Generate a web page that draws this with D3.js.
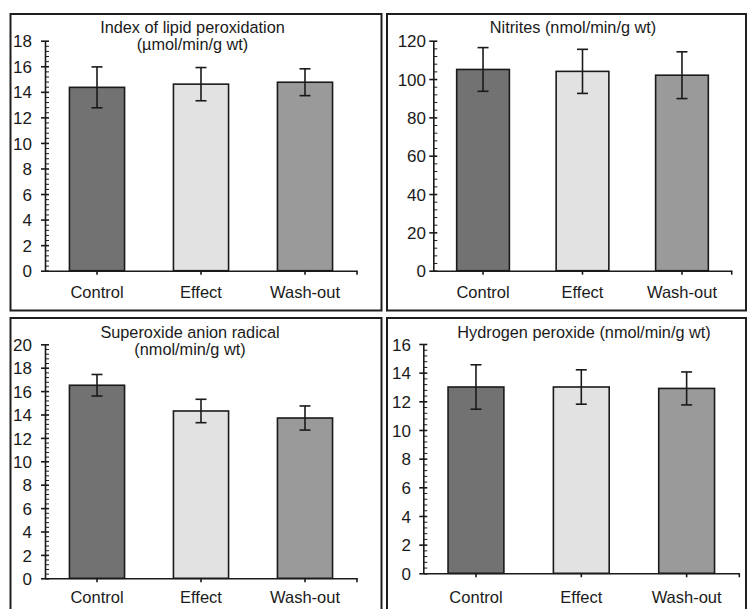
<!DOCTYPE html>
<html>
<head>
<meta charset="utf-8">
<script src="https://cdn.jsdelivr.net/npm/d3@7"></script>
<style>
  html, body { margin: 0; padding: 0; background: #fff; }
  svg text { font-family: "Liberation Sans", Arial, sans-serif; fill: #1a1a1a; }
</style>
</head>
<body>
<svg id="chart" width="747" height="609"></svg>
<script>
// ---- data ----
const categories = ["Control", "Effect", "Wash-out"];

const lipidValues = [14.35, 14.6, 14.75];
const lipidErrors = [1.6, 1.3, 1.05];
const lipidTicks = [0, 2, 4, 6, 8, 10, 12, 14, 16, 18];
const lipidTitle = ["Index of lipid peroxidation", "(µmol/min/g wt)"];

const nitriteValues = [105, 104, 102];
const nitriteErrors = [11.4, 11.5, 12.2];
const nitriteTicks = [0, 20, 40, 60, 80, 100, 120];
const nitriteTitle = ["Nitrites (nmol/min/g wt)"];

const superoxideValues = [16.5, 14.3, 13.7];
const superoxideErrors = [0.92, 1.0, 1.03];
const superoxideTicks = [0, 2, 4, 6, 8, 10, 12, 14, 16, 18, 20];
const superoxideTitle = ["Superoxide anion radical", "(nmol/min/g wt)"];

const peroxideValues = [13.0, 13.0, 12.9];
const peroxideErrors = [1.55, 1.2, 1.15];
const peroxideTicks = [0, 2, 4, 6, 8, 10, 12, 14, 16];
const peroxideTitle = ["Hydrogen peroxide (nmol/min/g wt)"];

const barColors = ["#727272", "#e2e2e2", "#9a9a9a"];

// ---- layout (positions only) ----
const panels = [
  { values: lipidValues, errors: lipidErrors, ticks: lipidTicks, title: lipidTitle, minorDiv: 5,
    box: [10.5, 14, 381.5, 310.5], ax: 45, y0: 270.7, yTop: 40.7, xEnd: 357, titleX: 192.5, titleY: 33, catY: 298, labelRight: 32 },
  { values: nitriteValues, errors: nitriteErrors, ticks: nitriteTicks, title: nitriteTitle, minorDiv: 5,
    box: [387, 14, 746, 310.5], ax: 433.3, y0: 270.7, yTop: 40.7, xEnd: 731.7, titleX: 573, titleY: 33, catY: 298, labelRight: 426 },
  { values: superoxideValues, errors: superoxideErrors, ticks: superoxideTicks, title: superoxideTitle, minorDiv: 5,
    box: [10.5, 318, 381.5, 620], ax: 45, y0: 578.3, yTop: 344.3, xEnd: 357, titleX: 190, titleY: 338, catY: 603, labelRight: 32 },
  { values: peroxideValues, errors: peroxideErrors, ticks: peroxideTicks, title: peroxideTitle, minorDiv: 5,
    box: [387, 318, 746, 620], ax: 423.3, y0: 573.3, yTop: 344, xEnd: 739.3, titleX: 584, titleY: 338, catY: 603, labelRight: 411 }
];

const svg = d3.select("#chart");

panels.forEach(p => {
  const g = svg.append("g");
  // frame
  g.append("rect")
    .attr("x", p.box[0]).attr("y", p.box[1])
    .attr("width", p.box[2] - p.box[0]).attr("height", p.box[3] - p.box[1])
    .attr("fill", "none").attr("stroke", "#1e1e1e").attr("stroke-width", 2);

  const maxT = p.ticks[p.ticks.length - 1];
  const y = d3.scaleLinear().domain([0, maxT]).range([p.y0, p.yTop]);
  const x = d3.scaleBand().domain(categories).range([p.ax, p.xEnd]).paddingInner(0.47).paddingOuter(0.235);

  // bars
  g.selectAll("rect.bar").data(p.values).enter().append("rect")
    .attr("class", "bar")
    .attr("x", (d, i) => x(categories[i]))
    .attr("y", d => y(d))
    .attr("width", x.bandwidth())
    .attr("height", d => y(0) - y(d))
    .attr("fill", (d, i) => barColors[i])
    .attr("stroke", "#1a1a1a").attr("stroke-width", 1.6);

  // error bars
  const cx = i => x(categories[i]) + x.bandwidth() / 2;
  const eg = g.append("g").attr("stroke", "#1a1a1a").attr("stroke-width", 1.6);
  p.values.forEach((v, i) => {
    const e = p.errors[i];
    eg.append("line").attr("x1", cx(i)).attr("x2", cx(i)).attr("y1", y(v + e)).attr("y2", y(v - e));
    eg.append("line").attr("x1", cx(i) - 5.5).attr("x2", cx(i) + 5.5).attr("y1", y(v + e)).attr("y2", y(v + e));
    eg.append("line").attr("x1", cx(i) - 5.5).attr("x2", cx(i) + 5.5).attr("y1", y(v - e)).attr("y2", y(v - e));
  });

  // minor ticks (inside, to the right)
  const step = p.ticks[1] - p.ticks[0];
  const minor = d3.range(0, maxT + 1e-9, step / p.minorDiv).filter(v => Math.abs(v / step - Math.round(v / step)) > 1e-6);
  const yMinor = d3.axisRight(y).tickValues(minor).tickSize(4).tickFormat("");
  g.append("g").attr("transform", `translate(${p.ax},0)`).call(yMinor)
    .call(s => s.select(".domain").remove())
    .call(s => s.selectAll("line").attr("stroke", "#1a1a1a").attr("stroke-width", 1));

  // major ticks (cross)
  const yAxis = d3.axisLeft(y).tickValues(p.ticks).tickSizeInner(4).tickSizeOuter(0).tickFormat(d3.format("d"));
  const ya = g.append("g").attr("transform", `translate(${p.ax},0)`).call(yAxis);
  ya.select(".domain").attr("stroke", "#1a1a1a").attr("stroke-width", 1.6);
  ya.selectAll(".tick line").attr("x2", 4).attr("x1", -4).attr("stroke", "#1a1a1a").attr("stroke-width", 1.6);
  ya.selectAll(".tick text").attr("x", p.labelRight - p.ax).attr("dy", "0.36em")
    .style("font-size", "17px").attr("fill", "#1a1a1a");

  // x axis
  const xAxis = d3.axisBottom(x).tickSizeInner(4).tickSizeOuter(0);
  const xa = g.append("g").attr("transform", `translate(0,${p.y0})`).call(xAxis);
  xa.select(".domain").attr("stroke", "#1a1a1a").attr("stroke-width", 1.6);
  xa.selectAll(".tick line").attr("stroke", "#1a1a1a").attr("stroke-width", 1.6);
  xa.selectAll(".tick text").attr("y", p.catY - p.y0).attr("dy", 0)
    .style("font-size", "16.5px").attr("fill", "#1a1a1a");
  // right end tick
  xa.append("line").attr("x1", p.xEnd).attr("x2", p.xEnd).attr("y1", 0).attr("y2", 4)
    .attr("stroke", "#1a1a1a").attr("stroke-width", 1.6);

  // title
  const t = g.append("text").attr("x", p.titleX).attr("y", p.titleY)
    .attr("text-anchor", "middle").style("font-size", "16.3px");
  p.title.forEach((line, k) => {
    t.append("tspan").attr("x", p.titleX).attr("dy", k === 0 ? 0 : 16.5).text(line);
  });
});
</script>
</body>
</html>
